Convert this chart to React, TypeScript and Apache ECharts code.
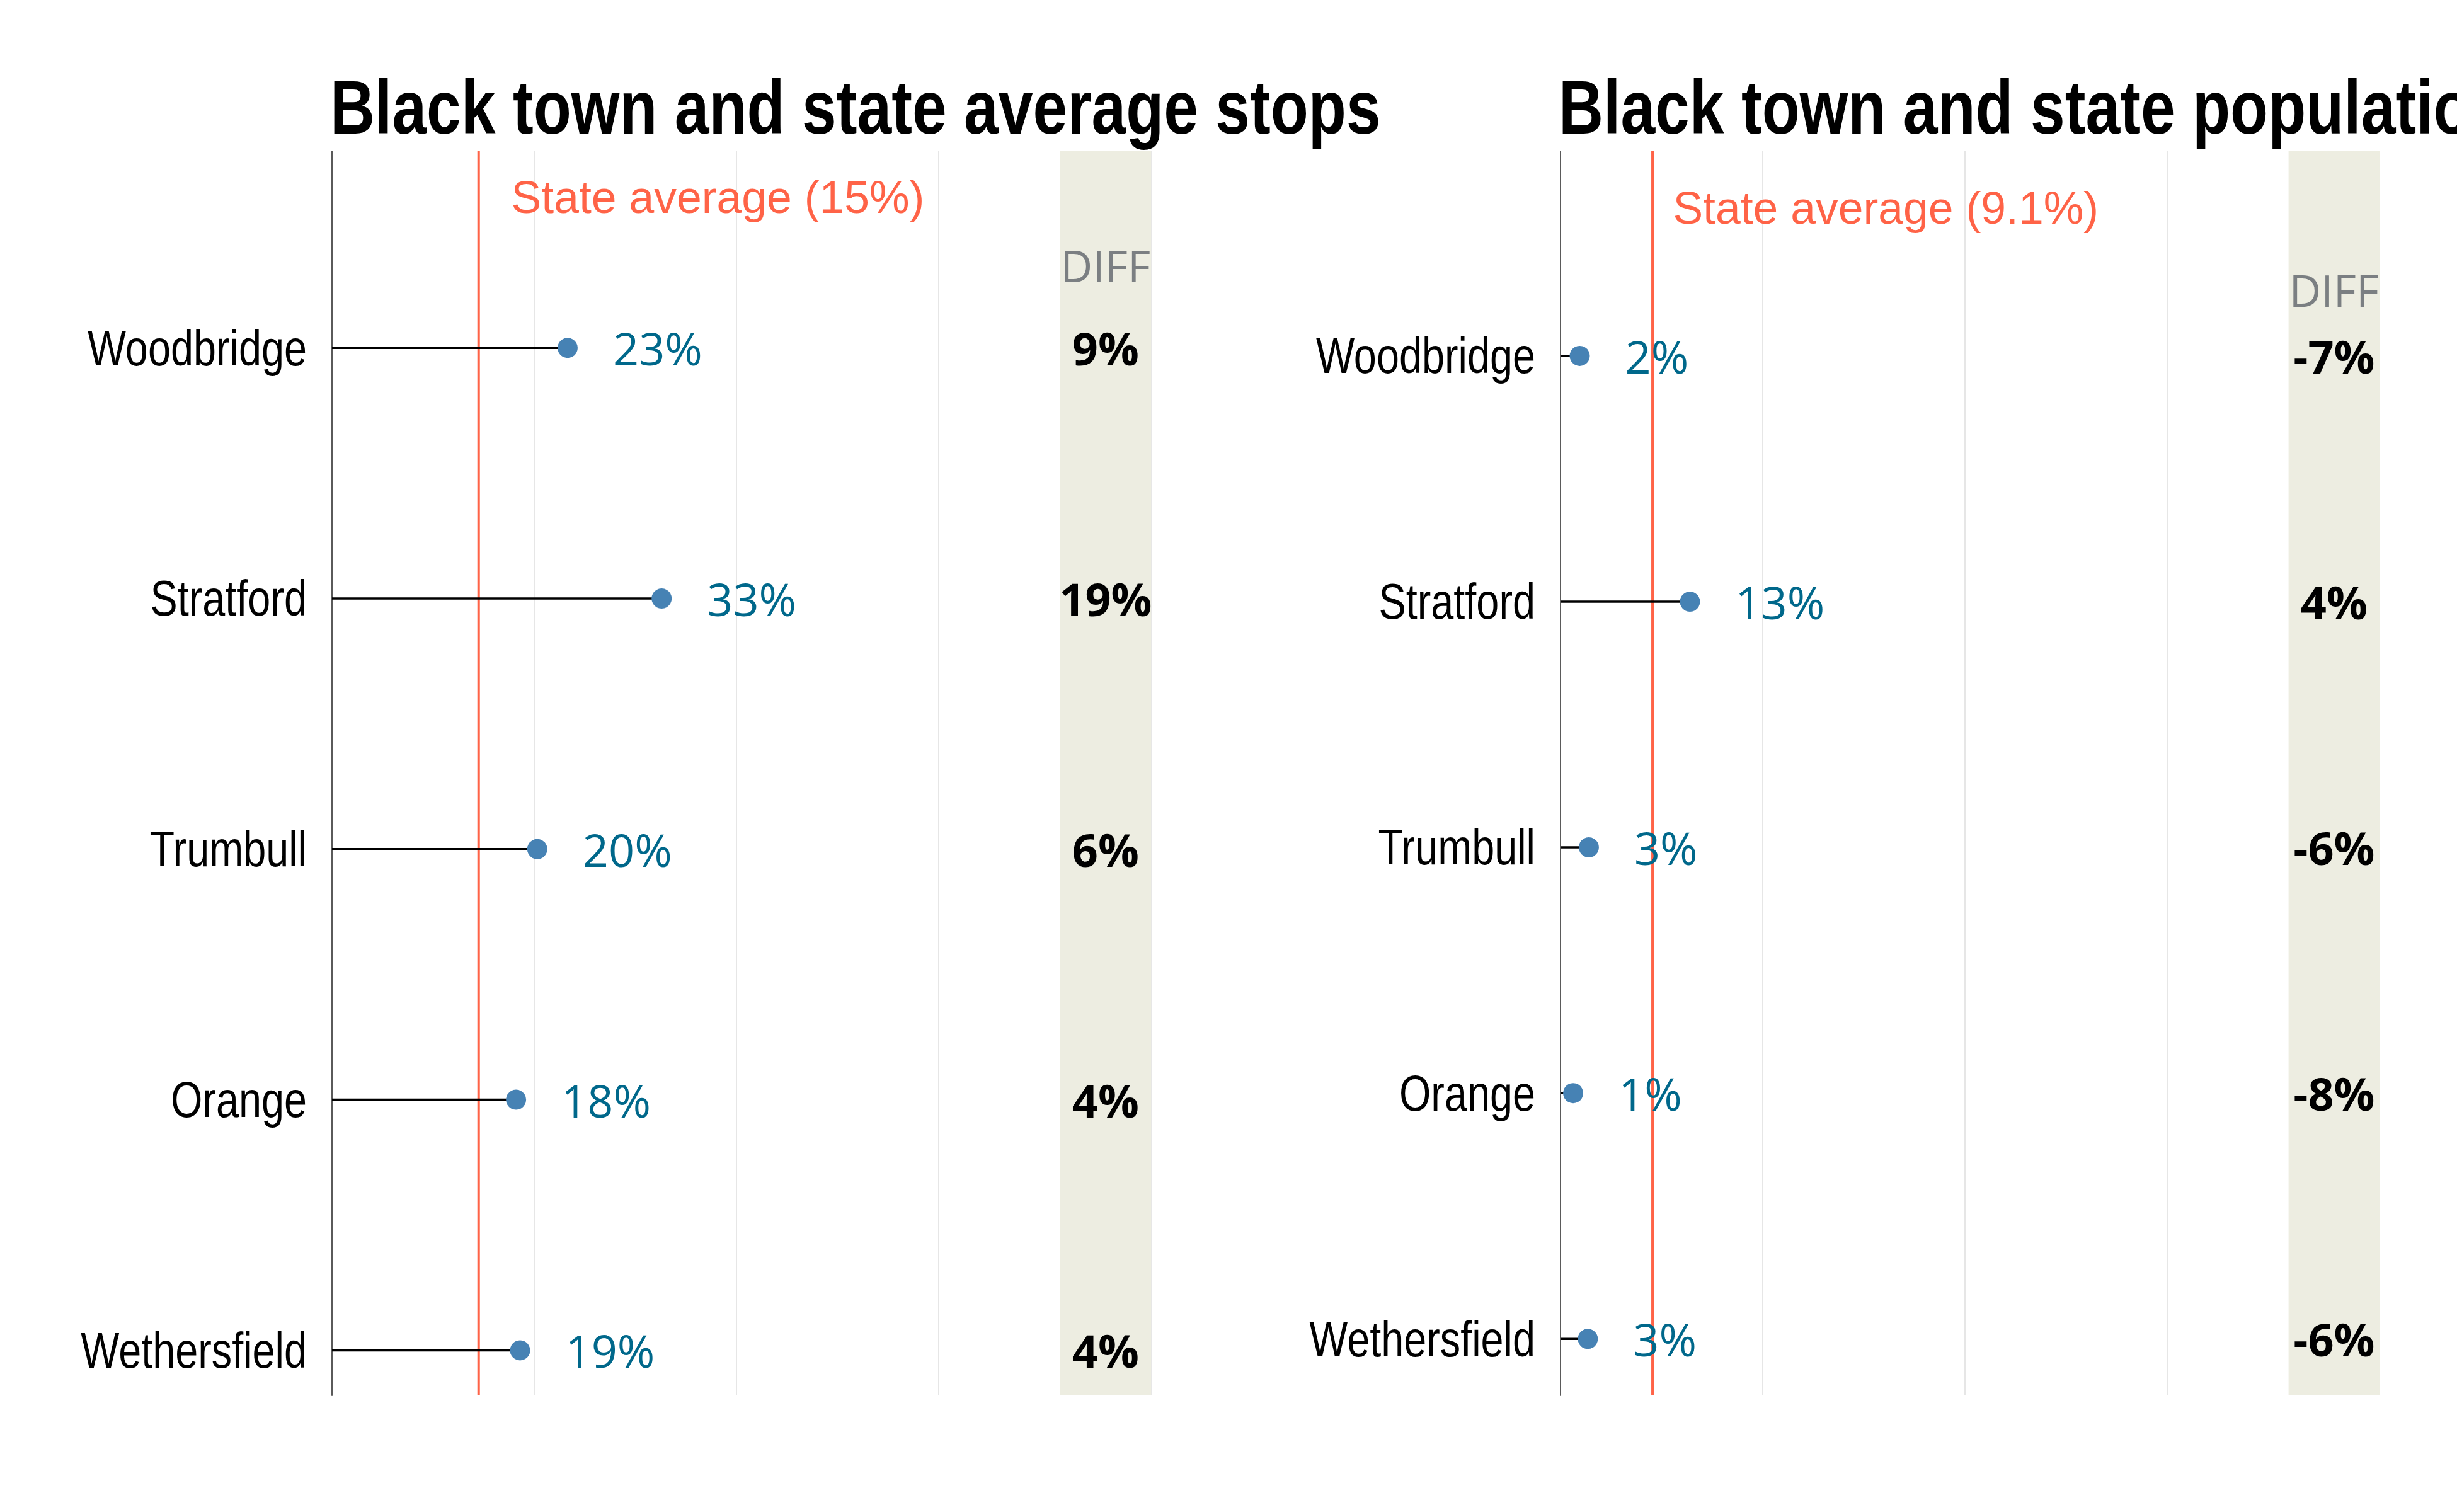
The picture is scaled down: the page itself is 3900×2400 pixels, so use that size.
import React, { useEffect, useRef } from 'react';
import * as echarts from 'echarts';

// ---- data ----
const towns = ['Woodbridge', 'Stratford', 'Trumbull', 'Orange', 'Wethersfield'];
const stopShares = [0.233, 0.326, 0.203, 0.182, 0.186];
const stopStateAvg = 0.145;
const stopDiffs = [9, 19, 6, 4, 4];
const popShares = [0.019, 0.128, 0.028, 0.0125, 0.027];
const popStateAvg = 0.091;
const popDiffs = [-7, 4, -6, -8, -6];
const titles = ['Black town and state average stops', 'Black town and state population'];
const stateLabels = ['State average (15%)', 'State average (9.1%)'];
const diffHeader = 'DIFF';
const diffBand = [0.72, 0.81];

const panels = [
  { shares: stopShares, avg: stopStateAvg, diffs: stopDiffs, title: titles[0], stateLabel: stateLabels[0] },
  { shares: popShares, avg: popStateAvg, diffs: popDiffs, title: titles[1], stateLabel: stateLabels[1] },
];

// layout (pixels / axis extents)
const gridLeft = [527, 2477];
const yMin = [-0.785, -0.833];
const yMax = [4.18, 4.23];
const diffHeaderY = [-0.33, -0.27];
const stateLabelY = -0.6;
const xMax = 0.81;
const NARROW = 0.82;

const pct = (v: number) => `${Math.round(v * 100)}%`;

function buildOption() {
  const grid: any[] = [];
  const xAxis: any[] = [];
  const yAxis: any[] = [];
  const series: any[] = [];
  const graphic: any[] = [];

  panels.forEach((p, k) => {
    grid.push({ left: gridLeft[k], top: 240, width: 1605 * xMax, height: 1975, containLabel: false });
    xAxis.push({
      gridIndex: k, type: 'value', min: 0, max: xMax, interval: 0.2,
      axisLine: { show: false }, axisTick: { show: false }, axisLabel: { show: false },
      splitLine: { show: true, lineStyle: { color: '#E6E6E6', width: 2 } },
    });
    yAxis.push({
      gridIndex: k, type: 'value', inverse: true, min: yMin[k], max: yMax[k],
      axisLine: { show: true, lineStyle: { color: '#5a5a5a', width: 2 } },
      axisTick: { show: false },
      splitLine: { show: false },
      axisLabel: { show: false },
    });
    graphic.push({
      type: 'text', x: gridLeft[k] - 3, y: 170, scaleX: NARROW, silent: true,
      style: {
        text: p.title, fontFamily: 'Liberation Sans', fontWeight: 'bold', fontSize: 120,
        fill: '#000', align: 'left', verticalAlign: 'middle',
      },
    });

    // DIFF band
    series.push({
      type: 'custom', xAxisIndex: k, yAxisIndex: k, silent: true, z: 1,
      data: [[diffBand[0], diffBand[1]]],
      renderItem: (params: any, api: any) => {
        const cs = params.coordSys;
        const x0 = api.coord([api.value(0), 0])[0];
        const x1 = api.coord([api.value(1), 0])[0];
        return { type: 'rect', shape: { x: x0, y: cs.y, width: x1 - x0, height: cs.height }, style: { fill: '#EDEDE1' } };
      },
    });
    // State average line
    series.push({
      type: 'custom', xAxisIndex: k, yAxisIndex: k, silent: true, z: 2,
      data: [[p.avg, 0]],
      renderItem: (params: any, api: any) => {
        const cs = params.coordSys;
        const x = api.coord([api.value(0), 0])[0];
        return { type: 'line', shape: { x1: x, y1: cs.y, x2: x, y2: cs.y + cs.height }, style: { stroke: '#FF6347', lineWidth: 4 } };
      },
    });
    // segments + category labels
    series.push({
      type: 'custom', xAxisIndex: k, yAxisIndex: k, silent: true, z: 3, clip: false,
      data: p.shares.map((v, i) => [v, i]),
      renderItem: (params: any, api: any) => {
        const s = api.coord([0, api.value(1)]);
        const e = api.coord([api.value(0), api.value(1)]);
        return {
          type: 'group',
          children: [
            { type: 'line', shape: { x1: s[0], y1: s[1], x2: e[0], y2: e[1] }, style: { stroke: '#000', lineWidth: 3.5 } },
            {
              type: 'text', x: s[0] - 40, y: s[1], scaleX: NARROW,
              style: {
                text: towns[params.dataIndex], fontFamily: 'Liberation Sans', fontSize: 79,
                fill: '#000', align: 'right', verticalAlign: 'middle',
              },
            },
          ],
        };
      },
    });
    // dots with value labels
    series.push({
      type: 'scatter', xAxisIndex: k, yAxisIndex: k, silent: true, z: 4,
      symbol: 'circle', symbolSize: 32,
      itemStyle: { color: '#4682B4', opacity: 1 },
      data: p.shares.map((v, i) => [v, i]),
      label: {
        show: true, position: 'right', distance: 56,
        formatter: (d: any) => pct(d.value[0]),
        fontFamily: 'Open Sans', fontSize: 72, color: '#00688B', verticalAlign: 'middle',
      },
    });
    // diff values
    series.push({
      type: 'scatter', xAxisIndex: k, yAxisIndex: k, silent: true, z: 5,
      symbol: 'circle', symbolSize: 1, itemStyle: { color: 'transparent', opacity: 1 },
      data: p.diffs.map((d, i) => ({ value: [(diffBand[0] + diffBand[1]) / 2, i], name: `${d}%` })),
      label: {
        show: true, position: 'inside', formatter: (d: any) => d.name,
        fontFamily: 'Open Sans', fontWeight: 'bold', fontSize: 72, color: '#000', align: 'center', verticalAlign: 'middle',
      },
    });
    // header + state label
    series.push({
      type: 'scatter', xAxisIndex: k, yAxisIndex: k, silent: true, z: 5,
      symbol: 'circle', symbolSize: 1, itemStyle: { color: 'transparent', opacity: 1 },
      data: [
        { value: [(diffBand[0] + diffBand[1]) / 2, diffHeaderY[k]], name: diffHeader,
          label: { position: 'inside', align: 'center', fontFamily: 'Open Sans', fontSize: 70, color: '#7B7F82' } },
        { value: [p.avg * 1.225, stateLabelY], name: p.stateLabel,
          label: { position: [0, 0], align: 'left', fontFamily: 'Liberation Sans', fontSize: 71.5, color: '#FF6347' } },
      ],
      label: { show: true, formatter: (d: any) => d.name, verticalAlign: 'middle' },
    });
  });

  return { animation: false, backgroundColor: '#fff', graphic, grid, xAxis, yAxis, series };
}

export default function App() {
  const ref = useRef<HTMLDivElement>(null);
  useEffect(() => {
    if (!ref.current) return;
    const chart = echarts.init(ref.current, undefined, { renderer: 'svg' });
    chart.setOption(buildOption() as any);
    return () => chart.dispose();
  }, []);
  return <div ref={ref} style={{ position: 'absolute', left: 0, top: 0, width: 3900, height: 2400 }} />;
}
